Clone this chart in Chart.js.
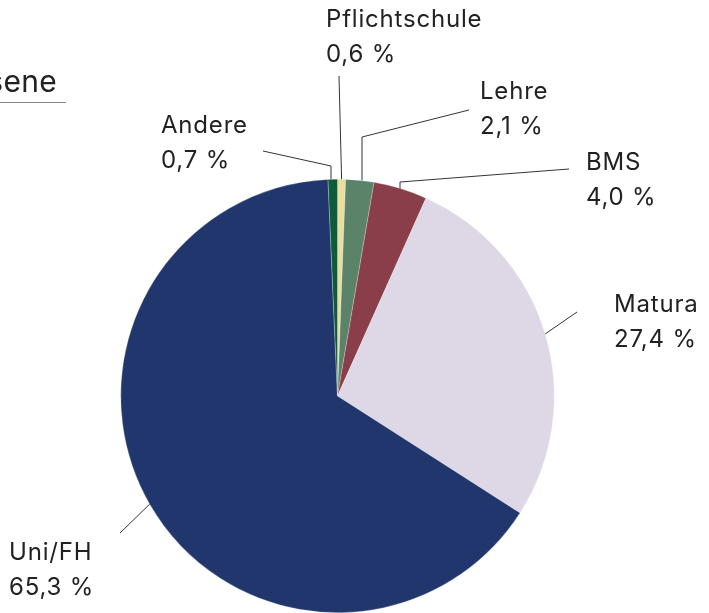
<!DOCTYPE html>
<html>
<head>
<meta charset="utf-8">
<script src="https://cdn.jsdelivr.net/npm/chart.js@4.4.0/dist/chart.umd.min.js"></script>
<style>
  html, body { margin: 0; padding: 0; background: #fff; }
  #wrap { position: relative; width: 709px; height: 613px; }
</style>
</head>
<body>
<div id="wrap"><canvas id="pie-chart" width="709" height="613"></canvas></div>
<script>
// data, clockwise from 12 o'clock
const categories = ['Pflichtschule', 'Lehre', 'BMS', 'Matura', 'Uni/FH', 'Andere'];
const shares = [0.6, 2.1, 4.0, 27.4, 65.3, 0.7];
const shareLabels = ['0,6 %', '2,1 %', '4,0 %', '27,4 %', '65,3 %', '0,7 %'];
const sliceColors = ['#E8DF9F', '#5A836A', '#8A3E4A', '#DDD7E6', '#22366E', '#0E5B3A'];

// where each label sits (text left/baseline) and where its leader line goes
const labelLayout = [
    { tx: 326, ty: 27, elbow: null, end: [339, 76] },
    { tx: 480, ty: 99, elbow: [362, 137], end: [469, 110] },
    { tx: 586, ty: 170, elbow: [400, 182], end: [569, 169] },
    { tx: 614, ty: 312, elbow: null, end: [577, 312] },
    { tx: 9, ty: 560, elbow: null, end: [120, 533] },
    { tx: 161, ty: 133, elbow: [331, 166], end: [263, 151] }
];

const FONT = '24px Inter, "Noto Sans", sans-serif';

const labelPlugin = {
    id: 'leaderLabels',
    afterDatasetsDraw(chart) {
        const ctx = chart.ctx;
        const arcs = chart.getDatasetMeta(0).data;
        ctx.save();
        ctx.strokeStyle = '#333';
        ctx.lineWidth = 1;
        arcs.forEach((arc, i) => {
            const lay = labelLayout[i];
            const mid = (arc.startAngle + arc.endAngle) / 2;
            let sx = arc.x + Math.cos(mid) * arc.outerRadius;
            let sy = arc.y + Math.sin(mid) * arc.outerRadius;
            ctx.beginPath();
            if (lay.elbow) {
                ctx.moveTo(lay.elbow[0], sy);
                ctx.lineTo(lay.elbow[0], lay.elbow[1]);
            } else {
                ctx.moveTo(sx, sy);
            }
            ctx.lineTo(lay.end[0], lay.end[1]);
            ctx.stroke();

            ctx.fillStyle = '#222';
            ctx.font = FONT;
            ctx.letterSpacing = '0.8px';
            ctx.textAlign = 'left';
            ctx.textBaseline = 'alphabetic';
            ctx.fillText(categories[i], lay.tx, lay.ty);
            ctx.fillText(shareLabels[i], lay.tx, lay.ty + 35);
        });

        // cut-off heading at the top left
        ctx.font = '30px Inter, "Noto Sans", sans-serif';
        ctx.letterSpacing = '0.3px';
        ctx.textAlign = 'right';
        ctx.fillText('Abgeschlossene', 57, 92);
        ctx.strokeStyle = '#888';
        ctx.beginPath();
        ctx.moveTo(0, 102.5);
        ctx.lineTo(66, 102.5);
        ctx.stroke();
        ctx.restore();
    }
};

const ctx = document.getElementById('pie-chart');
new Chart(ctx, {
    type: 'pie',
    data: {
        labels: categories,
        datasets: [{
            data: shares,
            backgroundColor: sliceColors,
            borderColor: 'rgba(255,255,255,0.5)',
            borderWidth: 0.5,
            hoverOffset: 0
        }]
    },
    options: {
        responsive: false,
        animation: false,
        rotation: 0,
        layout: {
            padding: { left: 120, right: 154, top: 179, bottom: 0 }
        },
        plugins: {
            legend: { display: false },
            tooltip: { enabled: false },
            title: { display: false }
        }
    },
    plugins: [labelPlugin]
});
</script>
</body>
</html>
